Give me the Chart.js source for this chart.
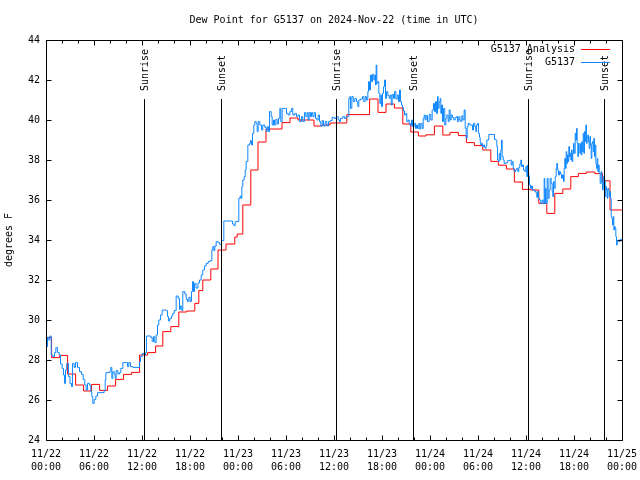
<!DOCTYPE html>
<html lang="en">
<head>
<meta charset="UTF-8">
<title>Dew Point for G5137</title>
<script src="https://cdn.jsdelivr.net/npm/chart.js"></script>
<style>
  html, body { margin: 0; padding: 0; background: #fff; }
  #chart { display: block; }
</style>
</head>
<body>
<canvas id="chart" width="640" height="480"></canvas>
<script>
// x values are hours since 2024-11-22 00:00 UTC
const xTickLabels = [
  ['11/22', '00:00'], ['11/22', '06:00'], ['11/22', '12:00'], ['11/22', '18:00'],
  ['11/23', '00:00'], ['11/23', '06:00'], ['11/23', '12:00'], ['11/23', '18:00'],
  ['11/24', '00:00'], ['11/24', '06:00'], ['11/24', '12:00'], ['11/24', '18:00'],
  ['11/25', '00:00']
];
const yTickLabels = ['24', '26', '28', '30', '32', '34', '36', '38', '40', '42', '44'];

const sunHours = [12.2, 21.85, 36.2, 45.85, 60.2, 69.8];
const sunLabels = ['Sunrise', 'Sunset', 'Sunrise', 'Sunset', 'Sunrise', 'Sunset'];

// hourly analysis (red steps)
const analysisHours = [
  -0.3, 0.7, 1.7, 2.7, 3.7, 4.7, 5.7, 6.7, 7.7, 8.7, 9.7, 10.7,
  11.7, 12.7, 13.7, 14.6, 15.6, 16.6, 17.6, 18.6, 19.1, 19.6, 20.6, 21.5,
  22.5, 23.6, 23.9, 24.6, 25.6, 26.5, 27.5, 29.5, 30.5, 31.5, 33.5, 34.5,
  35.5, 37.6, 40.45, 41.5, 42.5, 43.55, 44.6, 45.6, 46.55, 47.5, 48.55, 49.6,
  50.5, 51.55, 52.55, 53.55, 54.6, 55.6, 56.55, 57.55, 58.55, 59.55, 60.6, 61.6,
  62.6, 63.6, 64.6, 65.6, 66.55, 67.55, 68.6, 69.55, 70.5, 72.5
];
const analysisDewpt = [
  29.13, 28.12, 28.23, 27.3, 26.75, 26.45, 26.78, 26.48, 26.7, 27.03, 27.28, 27.38,
  28.25, 28.37, 28.7, 29.42, 29.67, 30.4, 30.45, 30.83, 31.47, 32.0, 32.55, 33.5,
  33.8, 34.15, 34.3, 35.75, 37.5, 38.9, 39.55, 39.87, 40.1, 40.0, 39.7, 39.75,
  39.85, 40.27, 41.05, 40.38, 40.8, 40.6, 39.8, 39.4, 39.2, 39.26, 39.7, 39.25,
  39.38, 39.22, 38.87, 38.72, 38.5, 37.93, 37.74, 37.55, 36.9, 36.53, 36.5, 35.83,
  35.33, 36.33, 36.55, 37.17, 37.33, 37.4, 37.32, 36.96, 35.5, 35.5
];

// station observations (blue steps)
const obsHours = [
  0, 0.1, 0.19, 0.35, 0.48, 0.65, 0.85, 1.06, 1.23, 1.44,
  1.65, 1.81, 2.02, 2.19, 2.31, 2.44, 2.6, 2.81, 3.0, 3.19,
  3.31, 3.52, 3.69, 3.94, 4.19, 4.44, 4.65, 4.85, 5.02, 5.19,
  5.44, 5.6, 5.73, 5.85, 6.02, 6.23, 6.44, 7.27, 7.4, 7.48,
  7.94, 8.1, 8.23, 8.35, 8.52, 8.65, 8.77, 8.98, 9.19, 9.35,
  9.6, 10.19, 10.35, 10.56, 10.85, 11.69, 11.81, 12.02, 12.27, 12.44,
  12.56, 13.1, 13.27, 13.44, 13.6, 13.77, 13.94, 14.1, 14.31, 14.52,
  15.02, 15.19, 15.31, 15.48, 15.69, 15.85, 16.02, 16.27, 16.52, 16.69,
  16.81, 16.98, 17.1, 17.35, 17.52, 17.69, 17.85, 18.02, 18.19, 18.31,
  18.44, 18.56, 18.75, 19.0, 19.19, 19.4, 19.6, 19.81, 20.02, 20.27,
  20.52, 20.73, 20.85, 20.98, 21.1, 21.27, 21.52, 21.69, 21.94, 22.23,
  23.19, 23.31, 23.48, 23.65, 24.1, 24.27, 24.4, 24.48, 24.6, 24.77,
  24.9, 25.02, 25.23, 25.44, 25.56, 25.69, 25.81, 25.98, 26.1, 26.27,
  26.4, 26.52, 26.73, 26.94, 27.1, 27.35, 27.52, 27.65, 27.81, 27.94,
  28.15, 28.27, 28.44, 28.56, 28.73, 28.9, 29.06, 29.23, 29.35, 29.52,
  30.06, 30.27, 30.48, 30.69, 30.85, 31.1, 31.31, 31.52, 31.69, 31.94,
  32.1, 32.31, 32.48, 32.65, 32.77, 32.9, 33.06, 33.19, 33.35, 33.52,
  33.69, 33.85, 34.02, 34.19, 34.35, 34.52, 34.69, 34.9, 35.1, 35.31,
  35.52, 35.77, 36.02, 36.27, 36.52, 36.69, 36.81, 37.1, 37.31, 37.52,
  37.85, 37.98, 38.06, 38.23, 38.4, 38.6, 38.81, 38.98, 39.1, 39.31,
  39.56, 39.73, 39.9, 40.06, 40.23, 40.31, 40.44, 40.56, 40.69, 40.81,
  40.98, 41.1, 41.19, 41.27, 41.35, 41.48, 41.6, 41.73, 41.85, 41.94,
  42.06, 42.19, 42.31, 42.44, 42.56, 42.73, 42.9, 43.02, 43.15, 43.27,
  43.44, 43.56, 43.73, 43.9, 44.06, 44.19, 44.31, 44.44, 44.56, 44.69,
  44.81, 44.98, 45.1, 45.27, 45.4, 45.52, 45.69, 45.81, 46.02, 46.19,
  46.31, 46.44, 46.6, 46.73, 46.85, 47.02, 47.15, 47.27, 47.4, 47.52,
  47.69, 47.9, 48.1, 48.27, 48.44, 48.56, 48.69, 48.81, 48.94, 49.02,
  49.15, 49.27, 49.35, 49.44, 49.56, 49.69, 49.85, 49.98, 50.1, 50.27,
  50.4, 50.52, 50.65, 50.81, 50.98, 51.15, 51.31, 51.44, 51.6, 51.73,
  51.85, 51.98, 52.1, 52.27, 52.4, 52.52, 52.65, 52.77, 52.98, 53.31,
  53.44, 53.6, 53.73, 53.81, 53.94, 54.06, 54.19, 54.27, 54.35, 54.44,
  54.56, 54.69, 54.81, 54.94, 55.02, 55.1, 55.35, 56.06, 56.27, 56.35,
  56.44, 56.56, 56.65, 56.77, 56.85, 56.94, 57.02, 57.15, 57.27, 57.52,
  57.69, 58.02, 58.15, 58.27, 58.4, 58.52, 58.69, 58.85, 58.98, 59.1,
  59.23, 59.35, 59.44, 59.56, 59.69, 59.85, 59.98, 60.1, 60.19, 60.27,
  60.35, 60.44, 60.56, 60.69, 60.81, 61.1, 61.27, 61.35, 61.44, 61.56,
  61.69, 61.85, 62.02, 62.15, 62.27, 62.35, 62.44, 62.52, 62.65, 62.77,
  62.9, 63.02, 63.15, 63.27, 63.35, 63.44, 63.52, 63.65, 63.77, 63.85,
  63.94, 64.06, 64.19, 64.31, 64.44, 64.56, 64.69, 64.77, 64.85, 64.94,
  65.02, 65.1, 65.19, 65.27, 65.35, 65.44, 65.52, 65.6, 65.69, 65.77,
  65.85, 65.94, 66.02, 66.15, 66.23, 66.31, 66.4, 66.48, 66.56, 66.65,
  66.73, 66.81, 66.9, 66.98, 67.06, 67.15, 67.23, 67.31, 67.4, 67.48,
  67.56, 67.65, 67.73, 67.81, 67.9, 67.98, 68.06, 68.15, 68.23, 68.31,
  68.4, 68.48, 68.56, 68.65, 68.73, 68.81, 68.9, 68.98, 69.06, 69.15,
  69.27, 69.4, 69.48, 69.56, 69.65, 69.73, 69.81, 69.9, 69.98, 70.06,
  70.15, 70.23, 70.31, 70.4, 70.48, 70.56, 70.65, 70.73, 70.81, 70.9,
  70.98, 71.06, 71.15, 71.23, 71.31, 71.4, 71.48, 71.6, 71.77, 72.31
];
const obsDewpt = [
  28.92, 28.67, 29.13, 29.0, 29.2, 28.25, 28.17, 28.37, 28.62, 28.37,
  28.25, 27.8, 27.58, 27.25, 26.83, 27.5, 27.83, 27.17, 26.83, 26.67,
  27.83, 27.63, 27.87, 27.63, 27.42, 27.28, 27.03, 26.75, 26.5, 26.83,
  26.75, 26.42, 26.17, 25.83, 26.03, 26.2, 26.37, 26.47, 27.0, 27.37,
  27.42, 27.63, 27.08, 27.42, 27.3, 27.08, 27.47, 27.3, 27.37, 27.58,
  27.87, 27.67, 27.87, 27.67, 27.63, 27.92, 28.17, 28.33, 28.25, 28.37,
  29.2, 29.13, 28.92, 29.17, 28.87, 29.25, 29.75, 30.0, 30.25, 30.5,
  30.47, 30.17, 29.95, 30.08, 30.2, 30.33, 30.47, 31.2, 31.08, 30.53,
  30.7, 30.47, 31.42, 31.3, 31.03, 30.92, 31.13, 30.92, 31.42, 31.92,
  31.42, 31.83, 31.6, 31.85, 32.0, 32.25, 32.5, 32.7, 32.83, 32.92,
  32.97, 33.5, 33.67, 33.47, 33.7, 33.92, 33.87, 33.78, 33.97, 34.95,
  34.95, 34.8, 34.72, 34.92, 36.08, 36.2, 36.08, 36.67, 37.0, 37.17,
  37.5, 37.92, 38.75, 38.83, 38.97, 38.75, 39.33, 39.75, 39.92, 39.83,
  39.42, 39.92, 39.75, 39.5, 39.75, 39.63, 39.42, 39.67, 39.42, 40.42,
  40.17, 39.75, 40.0, 39.75, 40.03, 39.8, 40.08, 40.58, 39.92, 40.58,
  40.33, 40.25, 40.42, 40.58, 40.25, 40.33, 40.17, 40.25, 39.92, 40.17,
  39.92, 40.37, 40.17, 40.37, 40.0, 40.37, 40.17, 40.37, 40.17, 40.37,
  40.08, 40.0, 40.25, 39.92, 39.7, 39.97, 39.7, 39.92, 39.7, 39.92,
  39.97, 40.13, 40.08, 40.17, 40.0, 39.92, 40.08, 40.17, 40.08, 40.17,
  41.08, 41.17, 40.58, 41.17, 40.92, 41.08, 40.92, 40.67, 41.0, 41.05,
  41.17, 40.92, 41.17, 41.0, 41.42, 41.92, 41.5, 42.25, 41.92, 42.28,
  42.0, 42.25, 41.75, 42.75, 41.83, 41.92, 41.33, 40.83, 41.25, 40.67,
  41.33, 41.67, 42.0, 41.08, 41.42, 41.22, 41.08, 41.25, 40.75, 41.28,
  41.08, 41.42, 41.05, 41.25, 40.92, 41.5, 40.92, 40.75, 40.62, 40.45,
  40.25, 40.33, 39.92, 40.0, 39.83, 39.72, 40.0, 39.67, 39.83, 39.58,
  39.75, 39.58, 39.83, 39.55, 39.83, 39.58, 40.08, 40.25, 40.0, 40.22,
  39.92, 40.28, 40.0, 40.5, 40.83, 40.42, 40.92, 40.33, 41.17, 40.58,
  40.92, 41.08, 40.33, 40.75, 39.92, 40.58, 39.75, 40.08, 40.25, 39.92,
  40.5, 40.0, 40.25, 40.12, 40.0, 40.12, 40.17, 39.92, 40.17, 40.0,
  39.92, 40.22, 40.0, 40.5, 39.58, 39.08, 39.67, 39.83, 39.75, 39.5,
  39.83, 39.67, 39.42, 39.75, 39.83, 39.33, 39.13, 38.92, 38.75, 38.83,
  38.67, 38.75, 38.63, 38.58, 38.7, 39.0, 39.28, 39.03, 38.97, 38.67,
  38.0, 37.92, 38.33, 38.0, 38.5, 39.0, 38.17, 38.0, 37.83, 37.87,
  37.97, 38.0, 37.75, 37.92, 37.58, 37.42, 37.5, 37.58, 37.42, 37.63,
  37.8, 38.0, 37.67, 37.75, 37.5, 37.42, 37.67, 37.17, 37.75, 37.33,
  37.17, 36.75, 36.58, 36.7, 36.5, 36.42, 36.33, 36.13, 36.42, 36.08,
  36.0, 35.83, 36.0, 35.83, 37.08, 35.83, 36.58, 35.83, 37.08, 36.08,
  36.5, 37.08, 36.83, 36.42, 36.17, 36.92, 36.58, 37.17, 37.58, 37.83,
  37.5, 37.25, 37.42, 37.3, 37.08, 37.25, 36.92, 37.58, 38.08, 37.58,
  38.42, 37.83, 38.25, 37.92, 38.67, 38.17, 38.33, 38.0, 38.5, 37.92,
  38.33, 38.83, 38.33, 39.33, 39.0, 39.58, 38.83, 38.17, 38.83, 38.58,
  38.33, 38.83, 38.25, 38.92, 38.42, 39.33, 38.33, 39.42, 38.92, 39.75,
  38.83, 39.17, 39.25, 38.92, 38.58, 39.17, 38.75, 38.08, 38.83, 38.92,
  38.42, 39.08, 38.17, 38.75, 37.83, 37.58, 38.08, 37.42, 37.75, 37.33,
  36.83, 37.42, 36.92, 36.5, 37.17, 36.67, 37.0, 36.17, 36.67, 36.5,
  36.08, 36.58, 36.5, 36.17, 36.42, 36.08, 35.17, 35.08, 34.75, 35.17,
  34.5, 34.67, 34.58, 34.17, 33.75, 33.92, 34.0, 33.92, 34.03, 34.08
];

const MONO = "'DejaVu Sans Mono', 'Liberation Mono', monospace";
Chart.defaults.font.family = MONO;
Chart.defaults.font.size = 10;
Chart.defaults.color = '#000';

// gnuplot style frame: box, inward ticks on all sides, sun markers, legend inside
const gnuplotFrame = {
  id: 'gnuplotFrame',
  afterDatasetsDraw(chart) {
    const { ctx, chartArea: a, scales: { x, y } } = chart;
    const L = Math.round(a.left) + 0.5, R = Math.round(a.right) + 0.5;
    const T = Math.round(a.top) + 0.5, B = Math.round(a.bottom) + 0.5;
    ctx.save();
    ctx.strokeStyle = '#000';
    ctx.lineWidth = 1;
    ctx.fillStyle = '#000';
    ctx.font = '10px ' + MONO;

    // sunrise / sunset markers
    sunHours.forEach((h, i) => {
      const px = Math.round(x.getPixelForValue(h)) + 0.5;
      ctx.beginPath();
      ctx.moveTo(px, 99);
      ctx.lineTo(px, B);
      ctx.stroke();
      ctx.save();
      ctx.translate(px + 1, 91);
      ctx.rotate(-Math.PI / 2);
      ctx.textAlign = 'left';
      ctx.textBaseline = 'middle';
      ctx.fillText(sunLabels[i], 0, 0);
      ctx.restore();
    });

    ctx.beginPath();
    ctx.rect(L, T, R - L, B - T);
    // y ticks, left and right
    y.ticks.forEach(t => {
      const py = Math.round(y.getPixelForValue(t.value)) + 0.5;
      ctx.moveTo(L, py); ctx.lineTo(L + 5, py);
      ctx.moveTo(R, py); ctx.lineTo(R - 5, py);
    });
    // x ticks, bottom and top (minor every 2 h)
    for (let h = 0; h <= 72; h += 2) {
      const px = Math.round(x.getPixelForValue(h)) + 0.5;
      const len = h % 6 === 0 ? 5 : 3;
      ctx.moveTo(px, B); ctx.lineTo(px, B - len);
      ctx.moveTo(px, T); ctx.lineTo(px, T + len);
    }
    ctx.stroke();
    ctx.restore();
  },
  afterDraw(chart) {
    const { ctx } = chart;
    ctx.save();
    ctx.font = '10px ' + MONO;
    ctx.textAlign = 'right';
    ctx.textBaseline = 'middle';
    chart.data.datasets.forEach((ds, i) => {
      const ry = 49.5 + 13 * i;
      ctx.fillStyle = '#000';
      ctx.fillText(ds.label, 575, ry);
      ctx.strokeStyle = ds.borderColor;
      ctx.lineWidth = 1;
      ctx.beginPath();
      ctx.moveTo(581, ry);
      ctx.lineTo(610, ry);
      ctx.stroke();
    });
    ctx.restore();
  }
};

new Chart(document.getElementById('chart'), {
  type: 'line',
  data: {
    datasets: [{
      label: 'G5137 Analysis',
      data: analysisHours.map((h, i) => ({ x: h, y: analysisDewpt[i] })),
      borderColor: '#ff0000',
      borderWidth: 1,
      stepped: true,
      pointRadius: 0,
      fill: false,
      order: 1
    }, {
      label: 'G5137',
      data: obsHours.map((h, i) => ({ x: h, y: obsDewpt[i] })),
      borderColor: '#1188ff',
      borderWidth: 1,
      stepped: true,
      pointRadius: 0,
      fill: false,
      order: 0
    }]
  },
  options: {
    responsive: false,
    animation: false,
    devicePixelRatio: 1,
    layout: { padding: { left: 0, right: 18, top: 0, bottom: 0 } },
    plugins: {
      legend: { display: false },
      tooltip: { enabled: false },
      title: {
        display: true,
        fullSize: false,
        text: 'Dew Point for G5137 on 2024-Nov-22 (time in UTC)',
        color: '#000',
        font: { size: 10, weight: 'normal', lineHeight: 1.2 },
        padding: { top: 14, bottom: 14 }
      }
    },
    scales: {
      x: {
        type: 'linear',
        min: 0,
        max: 72,
        afterFit: s => { s.height = 40; s.paddingLeft = 0; s.paddingRight = 0; },
        grid: { display: false, drawTicks: false },
        border: { display: false },
        ticks: {
          stepSize: 6,
          autoSkip: false,
          maxRotation: 0,
          padding: 8,
          color: '#000',
          font: { size: 10, lineHeight: 1.3 },
          callback: (v, i) => xTickLabels[i]
        }
      },
      y: {
        min: 24,
        max: 44,
        afterFit: s => { s.width = 46; },
        grid: { display: false, drawTicks: false },
        border: { display: false },
        ticks: {
          stepSize: 2,
          padding: 6,
          color: '#000',
          callback: (v, i) => yTickLabels[i]
        },
        title: {
          display: true,
          text: 'degrees F',
          color: '#000',
          font: { size: 10 },
          padding: { top: 3, bottom: 0 }
        }
      }
    }
  },
  plugins: [gnuplotFrame]
});
</script>
</body>
</html>
